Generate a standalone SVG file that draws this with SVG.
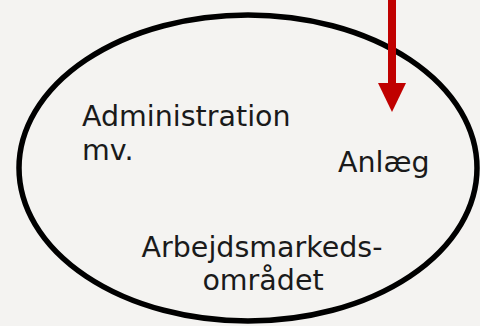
<svg xmlns="http://www.w3.org/2000/svg" width="480" height="326" viewBox="0 0 480 326">
<style>
.t{font-family:"DejaVu Sans",Verdana,sans-serif;font-size:28.5px;fill:#1a1a1a}
</style>
<rect width="480" height="326" fill="#f4f3f1"/>
<g id="ellipse">
<ellipse cx="248" cy="168" rx="229" ry="153" fill="none" stroke="#000" stroke-width="5.5"/>
</g>
<g id="admin"><text class="t" x="82" y="126">Administration</text><text class="t" x="82" y="160">mv.</text></g>
<g id="anlaeg"><text class="t" x="338" y="172">Anlæg</text></g>
<g id="arbejds"><text class="t" x="262" y="257" text-anchor="middle">Arbejdsmarkeds-</text><text class="t" x="263" y="290" text-anchor="middle">området</text></g>
<g id="connectors">
<line x1="392" y1="0" x2="392" y2="86" stroke="#c00000" stroke-width="8"/>
<polygon points="378,83 406,83 392,112" fill="#c00000"/>
</g>
</svg>
